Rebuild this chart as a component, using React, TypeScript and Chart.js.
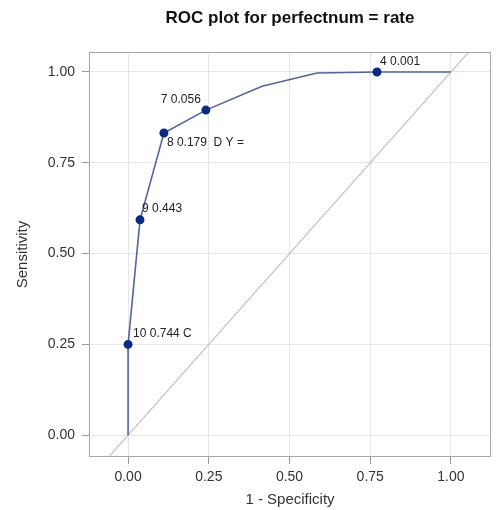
import React, { useEffect, useRef } from "react";
import { Chart, registerables } from "chart.js";

Chart.register(...registerables);

const chartTitle = "ROC plot for perfectnum = rate";
const xAxisTitle = "1 - Specificity";
const yAxisTitle = "Sensitivity";
const tickValues = [0, 0.25, 0.5, 0.75, 1.0];
const oneMinusSpecificity = [0, 0, 0.037, 0.111, 0.241, 0.415, 0.585, 0.771, 1.0];
const sensitivity = [0, 0.25, 0.593, 0.832, 0.895, 0.961, 0.997, 1.0, 1.0];
const pointLabels = ["", "10 0.744 C", "9 0.443", "8 0.179  D Y =", "7 0.056", "", "", "4 0.001", ""];
const diagonalX = [-0.2, 1.2];
const diagonalY = [-0.2, 1.2];

const FONT = "'Liberation Sans', Arial, sans-serif";

// label placement styles (pixel offsets), not data
const labelStyle: Record<number, { dx: number; dy: number; align: CanvasTextAlign }> = {
  1: { dx: 5, dy: -11, align: "left" },
  2: { dx: 2, dy: -11, align: "left" },
  3: { dx: 3, dy: 10, align: "left" },
  4: { dx: -5, dy: -10, align: "right" },
  7: { dx: 3, dy: -10, align: "left" },
};

const overlayPlugin = {
  id: "overlay",
  afterDraw(chart: any) {
    const { ctx, chartArea, scales } = chart;
    ctx.save();
    // frame
    ctx.strokeStyle = "#a8a8a8";
    ctx.lineWidth = 1;
    ctx.strokeRect(chartArea.left + 0.5, chartArea.top + 0.5, chartArea.right - chartArea.left - 1, chartArea.bottom - chartArea.top - 1);
    // point labels
    ctx.fillStyle = "#222";
    ctx.font = `12px ${FONT}`;
    ctx.textBaseline = "middle";
    pointLabels.forEach((t, i) => {
      if (!t) return;
      const st = labelStyle[i] || { dx: 4, dy: -10, align: "left" };
      const px = scales.x.getPixelForValue(oneMinusSpecificity[i]);
      const py = scales.y.getPixelForValue(sensitivity[i]);
      ctx.textAlign = st.align;
      ctx.fillText(t, px + st.dx, py + st.dy);
    });
    // titles
    ctx.fillStyle = "#111";
    ctx.textAlign = "center";
    ctx.font = `bold 17px ${FONT}`;
    ctx.fillText(chartTitle, (chartArea.left + chartArea.right) / 2, 18);
    ctx.fillStyle = "#333";
    ctx.font = `15px ${FONT}`;
    ctx.fillText(xAxisTitle, (chartArea.left + chartArea.right) / 2, 500);
    ctx.translate(23, (chartArea.top + chartArea.bottom) / 2);
    ctx.rotate(-Math.PI / 2);
    ctx.fillText(yAxisTitle, 0, 0);
    ctx.restore();
  },
};

export default function App() {
  const ref = useRef<HTMLCanvasElement>(null);
  useEffect(() => {
    if (!ref.current) return;
    const chart = new Chart(ref.current, {
      type: "scatter",
      data: {
        datasets: [
          {
            data: diagonalX.map((x, i) => ({ x, y: diagonalY[i] })),
            showLine: true,
            borderColor: "#c2c2c2",
            borderWidth: 1.2,
            pointRadius: 0,
            order: 2,
          },
          {
            data: oneMinusSpecificity.map((x, i) => ({ x, y: sensitivity[i] })),
            showLine: true,
            borderColor: "#52659b",
            borderWidth: 1.6,
            pointRadius: pointLabels.map((l) => (l ? 3.7 : 0)),
            pointBackgroundColor: "#0b2a80",
            pointBorderColor: "#0b2a80",
            order: 1,
          },
        ],
      },
      options: {
        responsive: false,
        animation: false,
        events: [],
        layout: { padding: { top: 52, right: 13, left: 0, bottom: 0 } },
        plugins: { legend: { display: false }, title: { display: false }, tooltip: { enabled: false } },
        scales: {
          x: {
            type: "linear",
            min: -0.121,
            max: 1.124,
            afterBuildTicks: (s: any) => { s.ticks = tickValues.map((v) => ({ value: v })); },
            afterFit: (s: any) => { s.height = 53; },
            ticks: { callback: (v: any) => Number(v).toFixed(2), color: "#333", font: { family: FONT, size: 14 }, padding: 5, maxRotation: 0 },
            grid: { color: "#e6e6e6", tickColor: "#9a9a9a", tickLength: 7, lineWidth: 1 },
            border: { display: false },
          },
          y: {
            type: "linear",
            min: -0.06,
            max: 1.055,
            afterBuildTicks: (s: any) => { s.ticks = tickValues.map((v) => ({ value: v })); },
            afterFit: (s: any) => { s.width = 89; },
            ticks: { callback: (v: any) => Number(v).toFixed(2), color: "#333", font: { family: FONT, size: 14 }, padding: 7 },
            grid: { color: "#e6e6e6", tickColor: "#9a9a9a", tickLength: 7, lineWidth: 1 },
            border: { display: false },
          },
        },
      },
      plugins: [overlayPlugin],
    } as any);
    return () => chart.destroy();
  }, []);
  return (
    <div style={{ position: "absolute", left: 0, top: 0, width: 504, height: 510, background: "#fff" }}>
      <canvas ref={ref} width={504} height={510} />
    </div>
  );
}
